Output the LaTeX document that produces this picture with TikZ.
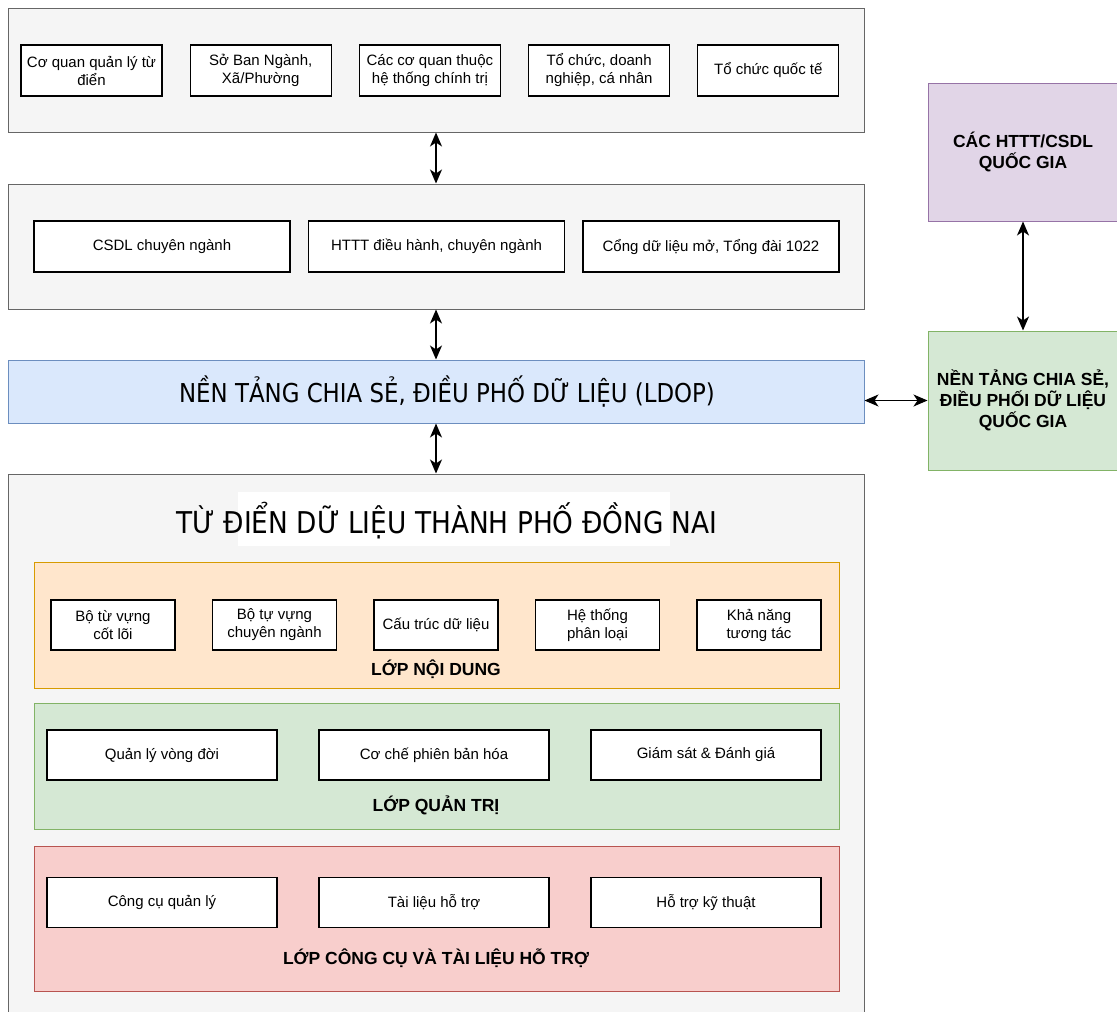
\documentclass[tikz,border=0pt]{standalone}
\usepackage{fontspec}
\setmainfont{Liberation Sans}
\newfontfamily\bigfont[FakeStretch=0.88]{DejaVu Sans}
\usetikzlibrary{arrows.meta}
\definecolor{panelfill}{HTML}{F5F5F5}
\definecolor{paneldraw}{HTML}{666666}
\definecolor{ldopfill}{HTML}{DAE8FC}
\definecolor{ldopdraw}{HTML}{6C8EBF}
\definecolor{contentfill}{HTML}{FFE6CC}
\definecolor{contentdraw}{HTML}{D79B00}
\definecolor{govfill}{HTML}{D5E8D4}
\definecolor{govdraw}{HTML}{82B366}
\definecolor{toolfill}{HTML}{F8CECC}
\definecolor{tooldraw}{HTML}{B85450}
\definecolor{natfill}{HTML}{E1D5E7}
\definecolor{natdraw}{HTML}{9673A6}

\begin{document}
\begin{tikzpicture}[
  x=1pt, y=-1pt,
  panel/.style={rectangle, draw=paneldraw, fill=panelfill, line width=1pt, minimum width=856pt},
  box/.style={rectangle, draw, fill=white, line width=1.2pt, minimum height=51pt, align=center, font=\fontsize{15}{18}\selectfont},
  layer/.style={rectangle, line width=1pt, minimum width=805pt},
  label/.style={font=\fontsize{17.5}{21}\selectfont\bfseries, align=center},
  natbox/.style={rectangle, line width=1pt, minimum width=190pt, align=center, font=\fontsize{17.5}{21}\selectfont\bfseries},
  link/.style={{Stealth[length=14pt,width=12pt,inset=4pt]}-{Stealth[length=14pt,width=12pt,inset=4pt]}, line width=1.2pt},
  node distance=169.2pt
]
\useasboundingbox (0,0) rectangle (1117,1012);

\node[panel, minimum height=124pt] (users) at (436,70) {};
\node[box, minimum width=141pt] (dictorg) at (91.5,70.5) {Cơ quan quản lý từ\\điển};
\node[box, minimum width=141pt, right of=dictorg] (depts) {Sở Ban Ngành,\\Xã/Phường};
\node[box, minimum width=141pt, right of=depts] (polit) {Các cơ quan thuộc\\hệ thống chính trị};
\node[box, minimum width=141pt, right of=polit] (biz) {Tổ chức, doanh\\nghiệp, cá nhân};
\node[box, minimum width=141pt, right of=biz] (intl) {Tổ chức quốc tế};

\node[panel, minimum height=125pt] (systems) at (436,246.5) {};
\node[box, minimum width=256pt] (csdl) at (162,246.5) {CSDL chuyên ngành};
\node[box, minimum width=256pt, right of=csdl, node distance=274.5pt] (httt) {HTTT điều hành, chuyên ngành};
\node[box, minimum width=256pt, right of=httt, node distance=274.5pt] (portal) {Cổng dữ liệu mở, Tổng đài 1022};

\node[rectangle, draw=ldopdraw, fill=ldopfill, line width=1pt, minimum width=856pt, minimum height=63pt,
  font=\bigfont\fontsize{26}{30}\selectfont] (ldop) at (436,391.5) {\hspace*{22pt}NỀN TẢNG CHIA SẺ, ĐIỀU PHỐ DỮ LIỆU (LDOP)};

\node[panel, minimum height=548pt] (dict) at (436,748) {};
\fill[white] (238,492) rectangle (670,546);
\node[font=\bigfont\fontsize{30}{34}\selectfont] (title) at (447,521) {TỪ ĐIỂN DỮ LIỆU THÀNH PHỐ ĐỒNG NAI};

\node[layer, draw=contentdraw, fill=contentfill, minimum height=126pt] (content) at (436.5,625) {};
\node[box, minimum width=124pt, minimum height=50pt] (core) at (113,625) {Bộ từ vựng\\cốt lõi};
\node[box, minimum width=124pt, minimum height=50pt, right of=core, node distance=161.5pt] (domain) {Bộ tự vựng\\chuyên ngành};
\node[box, minimum width=124pt, minimum height=50pt, right of=domain, node distance=161.5pt] (struct) {Cấu trúc dữ liệu};
\node[box, minimum width=124pt, minimum height=50pt, right of=struct, node distance=161.5pt] (classif) {Hệ thống\\phân loại};
\node[box, minimum width=124pt, minimum height=50pt, right of=classif, node distance=161.5pt] (interop) {Khả năng\\tương tác};
\node[label] (contentlbl) at (436,669) {LỚP NỘI DUNG};

\node[layer, draw=govdraw, fill=govfill, minimum height=126pt] (gov) at (436.5,766) {};
\node[box, minimum width=230pt, minimum height=50pt] (life) at (162,755) {Quản lý vòng đời};
\node[box, minimum width=230pt, minimum height=50pt, right of=life, node distance=272pt] (version) {Cơ chế phiên bản hóa};
\node[box, minimum width=230pt, minimum height=50pt, right of=version, node distance=272pt] (monitor) {Giám sát \& Đánh giá};
\node[label] (govlbl) at (436,805) {LỚP QUẢN TRỊ};

\node[layer, draw=tooldraw, fill=toolfill, minimum height=145pt] (tools) at (436.5,918.5) {};
\node[box, minimum width=230pt, minimum height=50pt] (mgmt) at (162,902.5) {Công cụ quản lý};
\node[box, minimum width=230pt, minimum height=50pt, right of=mgmt, node distance=272pt] (docs) {Tài liệu hỗ trợ};
\node[box, minimum width=230pt, minimum height=50pt, right of=docs, node distance=272pt] (support) {Hỗ trợ kỹ thuật};
\node[label] (toolslbl) at (436,958) {LỚP CÔNG CỤ VÀ TÀI LIỆU HỖ TRỢ};

\node[natbox, draw=natdraw, fill=natfill, minimum height=138pt] (natdb) at (1023,152) {CÁC HTTT/CSDL\\QUỐC GIA};
\node[natbox, draw=govdraw, fill=govfill, minimum height=139pt] (natldop) at (1023,400.5) {NỀN TẢNG CHIA SẺ,\\ĐIỀU PHỐI DỮ LIỆU\\QUỐC GIA};

\draw[link] (users) -- (systems);
\draw[link] (systems) -- (ldop);
\draw[link] (ldop) -- (dict);
\draw[link] (natdb) -- (natldop);
\draw[link] (ldop.east |- natldop.west) -- (natldop.west);
\end{tikzpicture}
\end{document}
